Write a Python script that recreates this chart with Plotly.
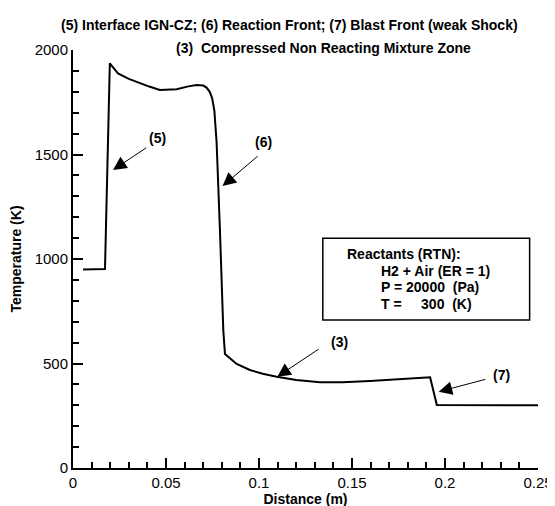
import plotly.graph_objects as go

# Temperature profile
distance_m = [0.0054, 0.0172, 0.0198, 0.0242, 0.0300, 0.0359, 0.0410, 0.0467, 0.0557,
              0.0620, 0.0664, 0.0700, 0.0718, 0.0735, 0.0748, 0.0760, 0.0772, 0.0790, 0.0808,
              0.0817, 0.0880, 0.0951, 0.1020, 0.1095, 0.1200, 0.1328, 0.1450, 0.1597,
              0.1750, 0.1920, 0.1956, 0.2100, 0.2500]
temperature_K = [950, 952, 1936, 1888, 1862, 1841, 1825, 1809, 1812,
                 1826, 1833, 1830, 1820, 1800, 1770, 1710, 1560, 1139, 660,
                 545, 498, 469, 451, 437, 421, 410, 410, 416,
                 424, 434, 301, 300, 300]

title_lines = ["(5) Interface IGN-CZ; (6) Reaction Front; (7) Blast Front (weak Shock)",
               "(3)  Compressed Non Reacting Mixture Zone"]
box_lines = ["Reactants (RTN):", "H2 + Air (ER = 1)",
             "P = 20000\u00a0\u00a0(Pa)", "T =\u00a0\u00a0\u00a0\u00a0\u00a0300\u00a0\u00a0(K)"]

# arrow callouts: label, head (x,y), tail (x,y), label (x,y)
callouts = [
    ("(5)", (0.0215, 1426), (0.0402, 1537), (0.0456, 1579)),
    ("(6)", (0.0804, 1349), (0.1001, 1498), (0.1023, 1561)),
    ("(3)", (0.1098, 437), (0.1328, 573), (0.1432, 604)),
    ("(7)", (0.1966, 365), (0.2225, 426), (0.2306, 445)),
]

FONT = "Liberation Sans, Arial, sans-serif"

fig = go.Figure()
fig.add_trace(go.Scatter(x=distance_m, y=temperature_K, mode="lines",
                         line=dict(color="black", width=2), showlegend=False))

annotations = []
for lab, head, tail, pos in callouts:
    annotations.append(dict(x=head[0], y=head[1], ax=tail[0], ay=tail[1],
                            xref="x", yref="y", axref="x", ayref="y", text="",
                            showarrow=True, arrowhead=2, arrowsize=2.7, arrowwidth=1,
                            arrowcolor="black", standoff=0, startstandoff=0))
    annotations.append(dict(x=pos[0], y=pos[1], xref="x", yref="y", text="<b>%s</b>" % lab,
                            showarrow=False, font=dict(size=14, color="black", family=FONT)))

annotations.append(dict(x=0.465, y=1.0837, xref="paper", yref="paper", text="<b>%s</b>" % title_lines[0],
                        showarrow=False, font=dict(size=14, color="black", family=FONT)))
annotations.append(dict(x=0.5395, y=1.0287, xref="paper", yref="paper", text="<b>%s</b>" % title_lines[1],
                        showarrow=False, font=dict(size=14, color="black", family=FONT)))

box_x = [0.1468, 0.1651, 0.1651, 0.1651]
box_y = [1024, 945, 866, 787]
for t, bx, by in zip(box_lines, box_x, box_y):
    annotations.append(dict(x=bx, y=by, xref="x", yref="y", text="<b>%s</b>" % t, xanchor="left",
                            showarrow=False, borderpad=0,
                            font=dict(size=14, color="black", family=FONT)))

fig.add_shape(type="rect", x0=0.1343, x1=0.2455, y0=708, y1=1099, xref="x", yref="y",
              line=dict(color="black", width=1.5))

fig.update_layout(
    width=555, height=506, margin=dict(l=65, r=25, t=42, b=46),
    paper_bgcolor="white", plot_bgcolor="white",
    font=dict(family=FONT, color="black"),
    annotations=annotations,
    xaxis=dict(range=[0, 0.25], showgrid=False, zeroline=False, showline=True, linecolor="black",
               linewidth=2, ticks="inside", ticklen=10, tickwidth=2, tickcolor="black",
               automargin=False,
               tickvals=[0, 0.05, 0.1, 0.15, 0.2, 0.25], ticktext=["0", "0.05", "0.1", "0.15", "0.2", "0.25"],
               tickfont=dict(size=15), ticklabelstandoff=0,
               minor=dict(ticks="inside", ticklen=6, tickwidth=1.5, tickcolor="black", dtick=0.01),
               title=dict(text="<b>Distance (m)</b>", font=dict(size=14), standoff=2)),
    yaxis=dict(range=[0, 2000], showgrid=False, zeroline=False, showline=True, linecolor="black",
               linewidth=2, ticks="inside", ticklen=10, tickwidth=2, tickcolor="black",
               automargin=False,
               tickvals=[0, 500, 1000, 1500, 2000], tickfont=dict(size=15), ticklabelstandoff=0,
               minor=dict(ticks="inside", ticklen=6, tickwidth=1.5, tickcolor="black", dtick=100),
               title=dict(text="<b>Temperature (K)</b>", font=dict(size=14), standoff=10)),
)

fig.write_html("out.html")
